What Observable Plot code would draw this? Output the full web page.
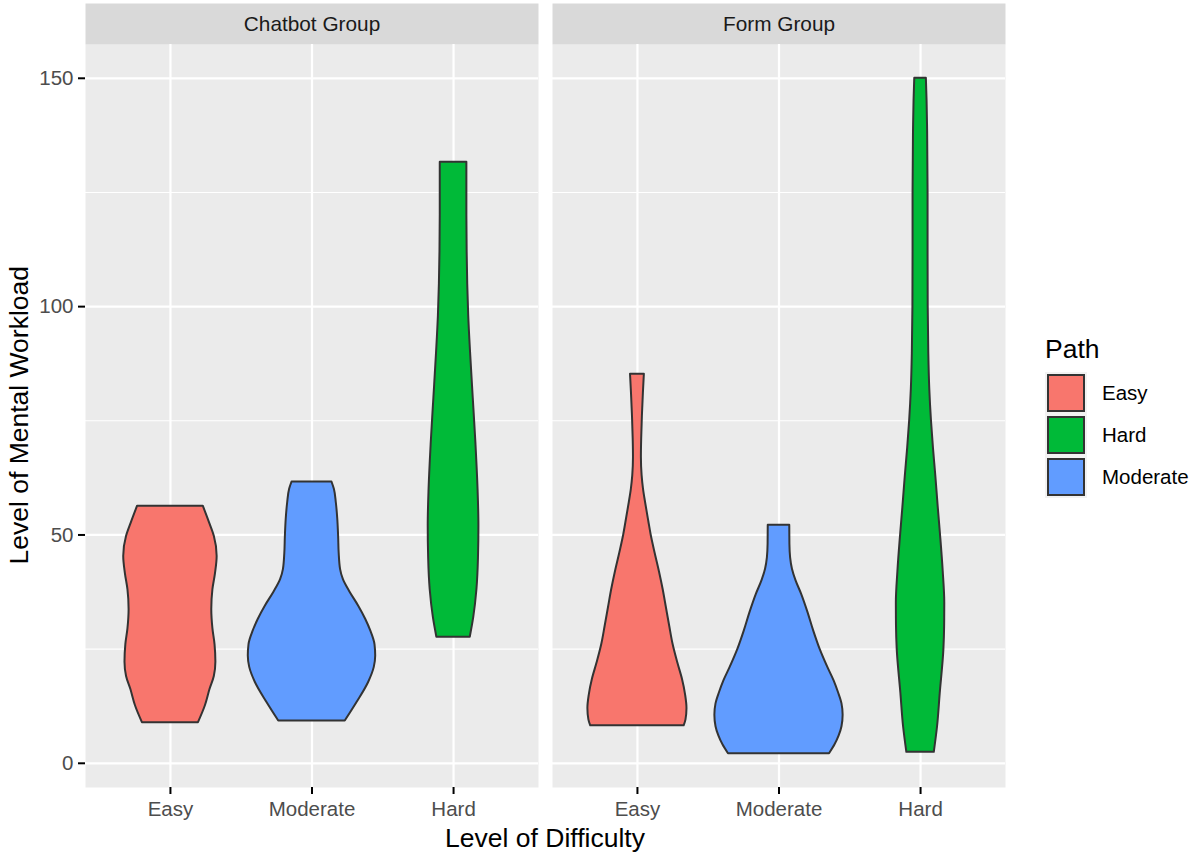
<!DOCTYPE html>
<html>
<head>
<meta charset="utf-8">
<script src="https://cdn.jsdelivr.net/npm/d3@7"></script>
<script src="https://cdn.jsdelivr.net/npm/@observablehq/plot@0.6"></script>
<style>
  body { margin: 0; background: #ffffff; font-family: "Liberation Sans", Arial, sans-serif; }
  #wrap { position: relative; width: 1191px; height: 852px; overflow: hidden; }
  #wrap svg g[aria-label="x-axis tick label"], #wrap svg g[aria-label="y-axis tick label"] { fill: #4D4D4D; }
  #wrap svg g[aria-label="x-axis tick"], #wrap svg g[aria-label="y-axis tick"] { stroke: #333333; stroke-width: 2px; }
  .title { position: absolute; font-size: 26.5px; line-height: 26.5px; color: #000; white-space: nowrap; }
  .legend-title { position: absolute; left: 1045px; top: 336px; font-size: 26.5px; line-height: 26.5px; color: #000; }
  .key { position: absolute; left: 1045px; width: 42px; height: 42px; background: #F2F2F2; }
  .key div { position: absolute; left: 2px; top: 2px; width: 38px; height: 38px; box-sizing: border-box; border: 2px solid #333333; }
  .key-label { position: absolute; left: 1102px; height: 42px; line-height: 42px; font-size: 20.5px; color: #000; }
</style>
</head>
<body>
<div id="wrap"></div>
<script>
// ---- data ----
const groups = ["Chatbot Group", "Form Group"];
const categories = ["Easy", "Moderate", "Hard"];
const legendOrder = ["Easy", "Hard", "Moderate"];
const palette = ["#F8766D", "#00BA38", "#619CFF"];
const majorTicks = [0, 50, 100, 150];
const minorTicks = [25, 75, 125];

// violin profiles: y = Level of Mental Workload, w = half-width (x units)
const chatbotEasyY = [8.9, 12.6, 16.2, 19, 22.1, 26, 29.5, 33.7, 38, 41.5, 45.3, 49.7, 52.6, 56.3];
const chatbotEasyW = [0.198, 0.247, 0.28, 0.31, 0.321, 0.315, 0.3, 0.292, 0.3, 0.318, 0.33, 0.31, 0.277, 0.232];
const chatbotModY = [9.25, 13.3, 17.7, 21, 23.5, 26, 29, 31.5, 34.4, 37.4, 40.2, 42.4, 46, 49.7, 53.5, 57, 60, 61.6];
const chatbotModW = [0.235, 0.318, 0.40, 0.44, 0.45, 0.445, 0.415, 0.38, 0.33, 0.27, 0.222, 0.202, 0.192, 0.188, 0.182, 0.172, 0.158, 0.141];
const chatbotHardY = [27.6, 32, 38, 45, 52, 60, 70, 80, 90, 98, 105, 112, 120, 131.6];
const chatbotHardW = [0.118, 0.143, 0.165, 0.176, 0.179, 0.173, 0.158, 0.139, 0.12, 0.107, 0.1, 0.096, 0.094, 0.094];
const formEasyY = [8.2, 9.5, 12, 15, 18.4, 22, 26, 30, 34, 38, 42, 46, 50, 53, 57, 60, 63, 67, 71, 76, 81, 85.2];
const formEasyW = [0.33, 0.343, 0.35, 0.34, 0.318, 0.285, 0.252, 0.228, 0.205, 0.182, 0.155, 0.125, 0.097, 0.08, 0.058, 0.043, 0.033, 0.028, 0.03, 0.035, 0.042, 0.049];
const formModY = [2.1, 4, 6, 8, 10.5, 13, 15.5, 18, 21, 25, 29, 33, 37, 40, 42.5, 45, 48, 52.1];
const formModW = [0.357, 0.395, 0.425, 0.445, 0.453, 0.445, 0.42, 0.39, 0.345, 0.29, 0.245, 0.205, 0.16, 0.12, 0.095, 0.082, 0.077, 0.076];
const formHardY = [2.4, 8, 15.3, 25, 30, 35.1, 42, 50, 56, 62.8, 69, 75, 82, 90, 100, 112, 125, 138, 145, 150];
const formHardW = [0.097, 0.12, 0.139, 0.165, 0.17, 0.171, 0.16, 0.141, 0.125, 0.108, 0.091, 0.077, 0.065, 0.058, 0.054, 0.053, 0.053, 0.05, 0.046, 0.041];

// ---- table built from the arrays ----
const violins = [
  [groups[0], "Easy", chatbotEasyY, chatbotEasyW],
  [groups[0], "Moderate", chatbotModY, chatbotModW],
  [groups[0], "Hard", chatbotHardY, chatbotHardW],
  [groups[1], "Easy", formEasyY, formEasyW],
  [groups[1], "Moderate", formModY, formModW],
  [groups[1], "Hard", formHardY, formHardW]
];
const rows = [];
for (const [group, path, ys, ws] of violins) {
  const pos = categories.indexOf(path) + 1;
  ys.forEach((y, i) => rows.push({group, path, pos, y, w: ws[i]}));
}

const chart = Plot.plot({
  width: 1191,
  height: 852,
  marginLeft: 85,
  marginRight: 186,
  marginTop: 44,
  marginBottom: 65,
  style: {fontFamily: "'Liberation Sans', Arial, sans-serif", fontSize: "20.5px", background: "transparent", overflow: "visible"},
  fx: {domain: groups, paddingInner: 0.03, paddingOuter: 0, axis: null, label: null},
  x: {domain: [0.4, 3.6], axis: null},
  y: {domain: [-5.3, 157.4], axis: null},
  color: {domain: legendOrder, range: palette},
  marks: [
    Plot.frame({fill: "#EBEBEB"}),
    Plot.frame({fill: "#D9D9D9", insetTop: -41, insetBottom: 743}),
    Plot.gridY(minorTicks, {stroke: "#ffffff", strokeOpacity: 1, strokeWidth: 1.1}),
    Plot.gridY(majorTicks, {stroke: "#ffffff", strokeOpacity: 1, strokeWidth: 2.2}),
    Plot.gridX([1, 2, 3], {stroke: "#ffffff", strokeOpacity: 1, strokeWidth: 2.2}),
    Plot.areaX(rows, {
      fx: "group", y: "y",
      x1: d => d.pos - d.w, x2: d => d.pos + d.w,
      fill: "path", z: "path",
      stroke: "#333333", strokeWidth: 2, curve: "monotone-y"
    }),
    Plot.axisX({ticks: [1, 2, 3], tickFormat: i => categories[i - 1], tickSize: 7, tickPadding: 7, label: null}),
    Plot.axisY({ticks: majorTicks, tickSize: 7, tickPadding: 5, label: null}),
    Plot.text(groups, {fx: d => d, text: d => d, frameAnchor: "top", lineAnchor: "middle", dy: -20.5, fill: "#1A1A1A", fontSize: 20.8})
  ]
});

const wrap = document.getElementById("wrap");
wrap.appendChild(chart);

// axis titles
const xt = document.createElement("div");
xt.className = "title";
xt.style.left = "85px"; xt.style.width = "920px"; xt.style.textAlign = "center"; xt.style.top = "824.5px";
xt.textContent = "Level of Difficulty";
wrap.appendChild(xt);

const yt = document.createElement("div");
yt.className = "title";
yt.style.width = "600px"; yt.style.textAlign = "center";
yt.style.left = (18.8 - 300) + "px"; yt.style.top = (415.5 - 13.25) + "px";
yt.style.transform = "rotate(-90deg)"; yt.style.transformOrigin = "50% 50%";
yt.textContent = "Level of Mental Workload";
wrap.appendChild(yt);

// legend
const lt = document.createElement("div");
lt.className = "legend-title";
lt.textContent = "Path";
wrap.appendChild(lt);
legendOrder.forEach((name, i) => {
  const top = 372 + i * 42;
  const k = document.createElement("div");
  k.className = "key"; k.style.top = top + "px";
  const inner = document.createElement("div");
  inner.style.background = palette[i];
  k.appendChild(inner);
  wrap.appendChild(k);
  const lab = document.createElement("div");
  lab.className = "key-label"; lab.style.top = top + "px";
  lab.textContent = name;
  wrap.appendChild(lab);
});
</script>
</body>
</html>
